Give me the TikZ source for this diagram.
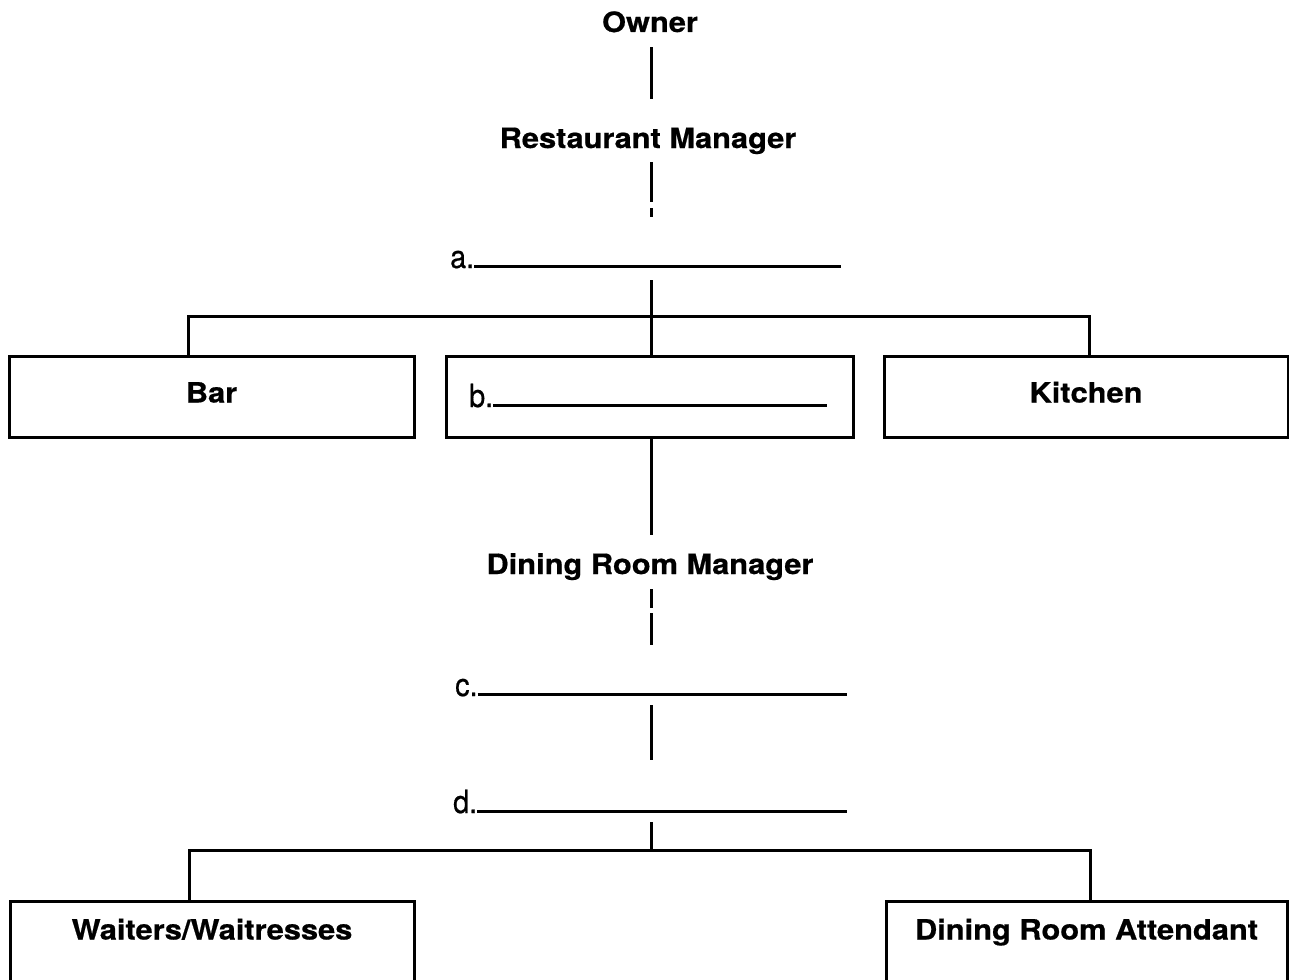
\documentclass[tikz,border=0pt]{standalone}
\usepackage{fontspec}
\newfontfamily\headfont{TeX Gyre Heros}[FakeStretch=1.1, FakeBold=0.6]
\newfontfamily\blankfont{TeX Gyre Heros}[FakeStretch=0.9, FakeBold=0.5]
\begin{document}
\begin{tikzpicture}[x=1pt,y=-1pt,
  link/.style={line width=3pt},
  title/.style={font=\headfont\bfseries\fontsize{28}{32}\selectfont,
    inner sep=0pt, text height=20pt, text depth=6pt, anchor=base},
  unit/.style={draw, line width=3pt, inner sep=0pt,
    font=\headfont\bfseries\fontsize{28}{32}\selectfont},
  toprow/.style={unit, minimum height=81pt, text height=20pt, text depth=8pt},
  lowrow/.style={unit, anchor=north, text height=38pt, text depth=90pt},
  blank/.style={font=\blankfont\fontsize{32}{36}\selectfont,
    inner sep=0pt, anchor=base west}]

% page frame
\useasboundingbox (0,0) rectangle (1289,979);
\fill[white] (0,0) rectangle (1289,979);
\clip (0,0) rectangle (1289,979);

% titles and fill-in blanks
\node[title] (owner) at (650,32) {Owner};
\node[title] (rm) at (648,148) {Restaurant Manager};
\node[blank] (a) at (450,268) {a.\rule{367pt}{2.6pt}};
\node[title] (drm) at (650,574) {Dining Room Manager};
\node[blank] (c) at (455,696) {c.\rule{369pt}{2.6pt}};
\node[blank] (d) at (453,813) {d.\rule{370pt}{2.6pt}};

% department boxes
\node[toprow, minimum width=405pt] (bar) at (211.5,396.5) {Bar};
\node[toprow, minimum width=407pt] (bbox) at (649.5,396.5) {};
\node[blank] (b) at (469,407) {b.\rule{334pt}{2.6pt}};
\node[toprow, minimum width=404pt] (kitchen) at (1086,396.5) {Kitchen};

% staff boxes (run off the bottom edge)
\node[lowrow, minimum width=404pt] (waiters) at (212,900) {Waiters/Waitresses};
\node[lowrow, minimum width=401pt] (attendant) at (1086.5,900) {Dining Room Attendant};

% junction points on the centre line
\coordinate (a-top) at (651,217);
\coordinate (ajoin) at (651,280);
\coordinate (bus1) at (651,316);
\coordinate (c-above) at (651,645);
\coordinate (c-top) at (651,705);
\coordinate (c-bot) at (651,760);
\coordinate (d-top) at (651,822);
\coordinate (bus2) at (651,850);

% connectors
\draw[link, shorten <=9pt, shorten >=29pt] (owner.south -| a-top) -- (rm.north -| a-top);
\draw[link, shorten <=8pt, dash pattern=on 40pt off 6pt on 9pt off 200pt]
  (rm.south -| a-top) -- (a-top);
\draw[link] (ajoin) -- (ajoin |- bbox.north);
\draw[link] ([xshift=-23.5pt]bar.north) |- (bus1) -| ([xshift=3pt]kitchen.north);
\draw[link, shorten >=19pt] (ajoin |- bbox.south) -- (ajoin |- drm.north);
\draw[link, shorten <=9pt, dash pattern=on 19pt off 5pt on 40pt off 100pt]
  (ajoin |- drm.south) -- (c-above);
\draw[link] (c-top) -- (c-bot);
\draw[link] (d-top) -- (bus2);
\draw[link] ([xshift=-23pt]waiters.north) |- (bus2) -| ([xshift=3.5pt]attendant.north);
\end{tikzpicture}
\end{document}
